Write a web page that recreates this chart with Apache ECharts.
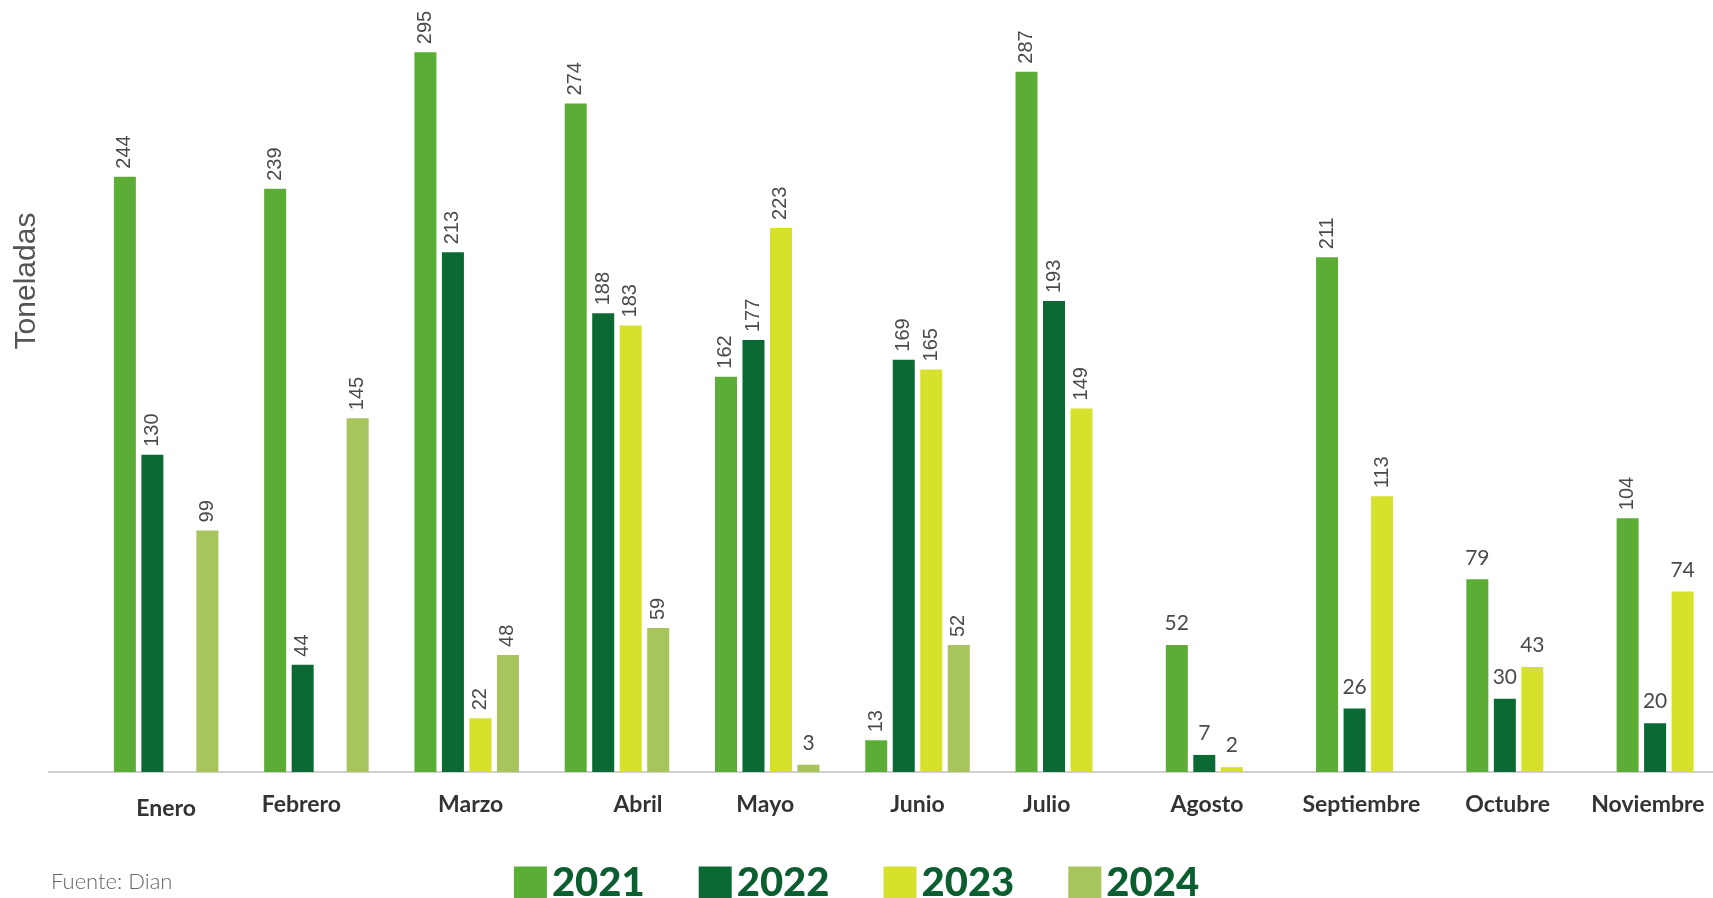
<!DOCTYPE html>
<html>
<head>
<meta charset="utf-8">
<script src="https://cdn.jsdelivr.net/npm/echarts@6/dist/echarts.min.js"></script>
<style>
html, body { margin: 0; padding: 0; background: #fff; }
#chart { width: 1713px; height: 898px; }
</style>
</head>
<body>
<div id="chart"></div>
<script>
var months = ['Enero', 'Febrero', 'Marzo', 'Abril', 'Mayo', 'Junio', 'Julio', 'Agosto', 'Septiembre', 'Octubre', 'Noviembre'];
var years = ['2021', '2022', '2023', '2024'];

var v2021 = [244, 239, 295, 274, 162, 13, 287, 52, 211, 79, 104];
var v2022 = [130, 44, 213, 188, 177, 169, 193, 7, 26, 30, 20];
var v2023 = [null, null, 22, 183, 223, 165, 149, 2, 113, 43, 74];
var v2024 = [99, 145, 48, 59, 3, 52, null, null, null, null, null];

var colors = ['#5cad35', '#0b6a33', '#d6e12b', '#a8c45c'];

// labels written flat instead of rotated: [serie, month]
var flatLabels = [[3, 4], [0, 7], [1, 7], [2, 7], [1, 8], [0, 9], [1, 9], [2, 9], [1, 10], [2, 10]];

// month names are not quite centred under their bars in the original
var labelShift = [0, -15, 4, 21, -2, 0, -21, -11, -7, -11, -21];

function isFlat(s, m){
	for(var i = 0; i < flatLabels.length; i++){
		if(flatLabels[i][0] == s && flatLabels[i][1] == m) return true;
	}
	return false;
}

var chart = echarts.init(document.getElementById('chart'));

var monthItems = [];
for(var i = 0; i < months.length; i++){
	var d = labelShift[i];
	monthItems.push({
		value: months[i],
		textStyle: {
			padding: [i == 0 ? 4 : 0, d < 0 ? -2 * d : 0, 0, d > 0 ? 2 * d : 0]
		}
	});
}

var allValues = [v2021, v2022, v2023, v2024];
var seriesArr = [];
for(var s = 0; s < allValues.length; s++){
	var items = [];
	for(var m = 0; m < months.length; m++){
		var val = allValues[s][m];
		if(val == null){
			items.push('-');
			continue;
		}
		if(isFlat(s, m)){
			items.push({
				value: val,
				label: {
					rotate: 0,
					align: 'center',
					verticalAlign: 'bottom',
					distance: 11,
					fontFamily: 'Lato',
					fontSize: 21
				}
			});
		}else{
			items.push(val);
		}
	}
	seriesArr.push({
		name: years[s],
		type: 'bar',
		xAxisIndex: 0,
		yAxisIndex: 0,
		barWidth: 22,
		barGap: '25%',
		itemStyle: { color: colors[s] },
		label: {
			show: true,
			position: 'top',
			rotate: 90,
			align: 'left',
			verticalAlign: 'middle',
			distance: 8,
			color: '#4a4a4a',
			fontFamily: 'Liberation Sans',
			fontSize: 20
		},
		data: items
	});
}

var options = {
	animation: false,
	title: {
		text: 'Fuente: Dian',
		left: 46,
		top: 866,
		textStyle: { fontFamily: 'Lato', fontWeight: 300, fontSize: 22, color: '#666' }
	},
	legend: {
		data: years,
		left: 'center',
		top: 858,
		icon: 'rect',
		itemWidth: 33,
		itemHeight: 33,
		itemGap: 54,
		textStyle: { fontFamily: 'Lato', fontWeight: 900, fontSize: 40, color: '#0b5e2f' }
	},
	graphic: [{
		type: 'text',
		x: 27,
		y: 281,
		rotation: Math.PI / 2,
		style: {
			text: 'Toneladas',
			textAlign: 'center',
			textVerticalAlign: 'middle',
			fontFamily: 'Liberation Sans',
			fontSize: 30,
			fill: '#555'
		}
	}],
	grid: [
		{ left: 91, right: -31, top: 40, bottom: 126, outerBoundsMode: 'none', containLabel: false },
		{ left: 49, right: 0, top: 40, bottom: 126 }
	],
	xAxis: [{
		type: 'category',
		gridIndex: 0,
		data: monthItems,
		axisLine: { show: false },
		axisTick: { show: false },
		axisLabel: {
			interval: 0,
			hideOverlap: false,
			margin: 21,
			fontFamily: 'Lato',
			fontWeight: 'bold',
			fontSize: 23,
			color: '#333'
		}
	}, {
		type: 'value',
		gridIndex: 1,
		min: 0,
		max: 1,
		axisLine: { show: true, lineStyle: { color: '#d0d0d0', width: 2 } },
		axisTick: { show: false },
		axisLabel: { show: false },
		splitLine: { show: false }
	}],
	yAxis: [{
		type: 'value',
		gridIndex: 0,
		min: 0,
		max: 300,
		show: false
	}, {
		type: 'value',
		gridIndex: 1,
		show: false
	}],
	series: seriesArr
};

chart.setOption(options);

window.onresize = function(){
	chart.resize();
};
</script>
</body>
</html>
